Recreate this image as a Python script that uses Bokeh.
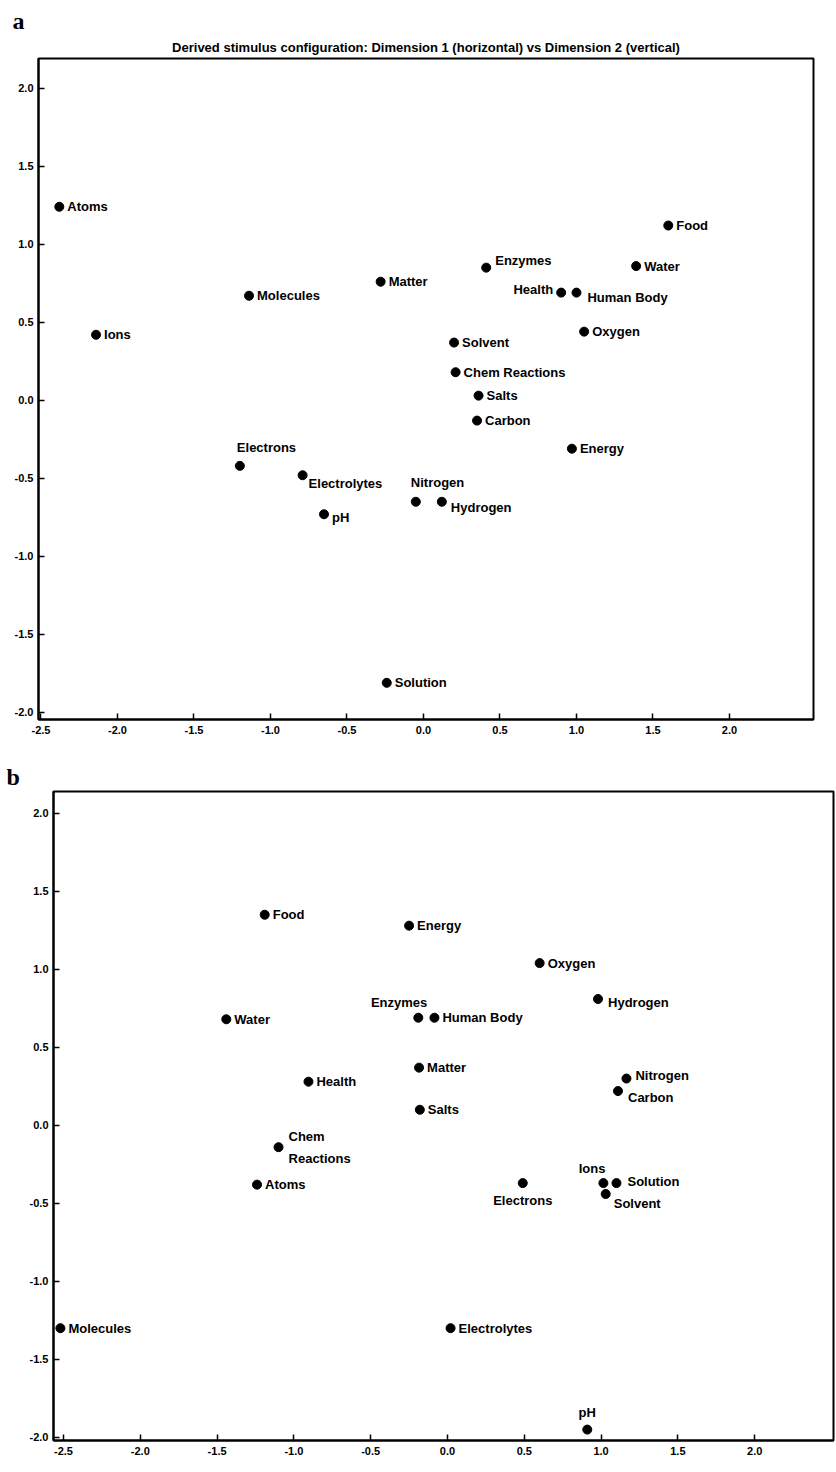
from bokeh.plotting import figure
from bokeh.models import ColumnDataSource, FixedTicker, NumeralTickFormatter, Range1d, Title
from bokeh.embed import file_html
from bokeh.resources import INLINE
from bokeh.core.properties import value, field

# ---------------- data ----------------
TITLE_A = "Derived stimulus configuration: Dimension 1 (horizontal) vs Dimension 2 (vertical)"
x_ticks = [-2.5, -2.0, -1.5, -1.0, -0.5, 0.0, 0.5, 1.0, 1.5, 2.0]
y_ticks = [2.0, 1.5, 1.0, 0.5, 0.0, -0.5, -1.0, -1.5, -2.0]

a_names = ["Atoms", "Ions", "Molecules", "Matter", "Electrons", "Electrolytes",
           "Enzymes", "Food", "Water", "Health", "Human Body", "Oxygen",
           "Solvent", "Chem Reactions", "Salts", "Carbon", "Energy",
           "Nitrogen", "Hydrogen", "pH", "Solution"]
a_dim1 = [-2.38, -2.14, -1.14, -0.28, -1.20, -0.79,
          0.41, 1.60, 1.39, 0.90, 1.00, 1.05,
          0.20, 0.21, 0.36, 0.35, 0.97,
          -0.05, 0.12, -0.65, -0.24]
a_dim2 = [1.24, 0.42, 0.67, 0.76, -0.42, -0.48,
          0.85, 1.12, 0.86, 0.69, 0.69, 0.44,
          0.37, 0.18, 0.03, -0.13, -0.31,
          -0.65, -0.65, -0.73, -1.81]

b_names = ["Food", "Energy", "Oxygen", "Hydrogen", "Enzymes", "Human Body",
           "Water", "Matter", "Health", "Salts", "Nitrogen", "Carbon",
           "Chem Reactions", "Atoms", "Electrons", "Ions", "Solution",
           "Solvent", "Molecules", "Electrolytes", "pH"]
b_dim1 = [-1.19, -0.25, 0.60, 0.98, -0.19, -0.085,
          -1.44, -0.185, -0.905, -0.18, 1.165, 1.11,
          -1.10, -1.24, 0.49, 1.015, 1.10,
          1.03, -2.52, 0.02, 0.91]
b_dim2 = [1.35, 1.28, 1.04, 0.81, 0.69, 0.69,
          0.68, 0.37, 0.28, 0.10, 0.30, 0.22,
          -0.14, -0.38, -0.37, -0.37, -0.37,
          -0.44, -1.30, -1.30, -1.95]

# ---------------- label placement (pixels) ----------------
a_place = {
    "Electrons": (-3, -18, "left"),
    "Nitrogen": (-5, -19, "left"),
    "Health": (-8, -3, "right"),
    "Electrolytes": (6, 8, "left"),
    "Enzymes": (9, -7, "left"),
    "Human Body": (11, 5, "left"),
    "Hydrogen": (9, 6, "left"),
    "pH": (8, 3, "left"),
}
b_place = {
    "Enzymes": (9, -15, "right"),
    "Chem Reactions": (10, 0, "left"),
    "Electrons": (0, 17, "center"),
    "Ions": (2, -15, "right"),
    "Solvent": (8, 9, "left"),
    "pH": (0, -17, "center"),
    "Carbon": (10, 6, "left"),
    "Nitrogen": (9, -3, "left"),
    "Hydrogen": (10, 4, "left"),
    "Solution": (11, -2, "left"),
}
b_multiline = {"Chem Reactions": "Chem\nReactions"}

FONT = "Liberation Sans"


def make_panel(names, xs, ys, place, multiline, xr, yr, w, h, borders,
               letter, letter_offset, letter_standoff, title=None):
    p = figure(width=w, height=h, x_range=Range1d(*xr), y_range=Range1d(*yr),
               output_backend="svg", toolbar_location=None,
               min_border_left=borders[0], min_border_right=borders[1],
               min_border_top=borders[2], min_border_bottom=borders[3])
    # panel letter (outermost)
    p.title.text = letter
    p.title.align = "left"
    p.title.offset = letter_offset
    p.title.text_font = "Liberation Serif"
    p.title.text_font_size = "24px"
    p.title.text_font_style = "bold"
    p.title.text_color = "black"
    p.title.standoff = letter_standoff
    if title:
        p.add_layout(Title(text=title, align="center", text_font=FONT,
                           text_font_size="13px", text_font_style="bold",
                           text_color="black", standoff=8), "above")
    p.grid.visible = False
    p.outline_line_color = "black"
    p.outline_line_width = 2
    p.outline_line_alpha = 1
    p.background_fill_color = "white"
    p.border_fill_color = "white"
    for ax, ticks in ((p.xaxis[0], x_ticks), (p.yaxis[0], y_ticks)):
        ax.ticker = FixedTicker(ticks=ticks)
        ax.formatter = NumeralTickFormatter(format="0.0")
        ax.axis_line_width = 2
        ax.axis_line_color = "black"
        ax.major_tick_in = 6
        ax.major_tick_out = 0
        ax.major_tick_line_width = 1.5
        ax.major_tick_line_color = "black"
        ax.minor_tick_line_color = None
        ax.major_label_text_font = FONT
        ax.major_label_text_font_size = "11px"
        ax.major_label_text_font_style = "bold"
        ax.major_label_text_color = "black"
    p.xaxis.major_label_standoff = 6
    p.yaxis.major_label_standoff = 5

    dx, dy, al, lab = [], [], [], []
    for n in names:
        o = place.get(n, (8, 0, "left"))
        dx.append(o[0]); dy.append(o[1]); al.append(o[2])
        lab.append(multiline.get(n, n))
    src = ColumnDataSource(dict(x=xs, y=ys, label=lab, dx=dx, dy=dy, align=al))
    p.scatter(x="x", y="y", source=src, size=9, color="black")
    p.text(x="x", y="y", text="label", source=src, x_offset="dx", y_offset="dy",
           text_align=field("align"), text_baseline="middle",
           text_font=value(FONT), text_font_size="13px", text_font_style="bold",
           text_color="black", text_line_height=1.45)
    return p


pa = make_panel(a_names, a_dim1, a_dim2, a_place, {},
                (-2.516, 2.549), (-2.045, 2.19), 836, 758, (38, 23, 58, 39),
                "a", -26, 0, title=TITLE_A)
pb = make_panel(b_names, b_dim1, b_dim2, b_place, b_multiline,
                (-2.565, 2.513), (-2.02, 2.14), 836, 714, (53, 3, 33, 32),
                "b", -47, 4)

open("out.html", "w").write(file_html([pa, pb], INLINE))
